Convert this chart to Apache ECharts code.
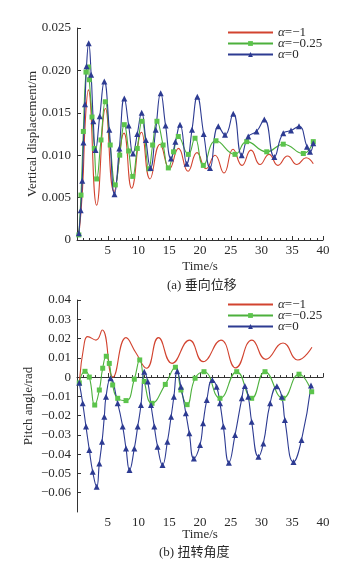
<!DOCTYPE html>
<html>
<head>
<meta charset="utf-8">
<script src="https://cdn.jsdelivr.net/npm/echarts@6/dist/echarts.min.js"></script>
<style>
html, body { margin: 0; padding: 0; background: #fff; }
#chart { width: 339px; height: 562px; }
</style>
</head>
<body>
<div id="chart"></div>
<script>
// names of the three damping cases
var seriesNames = ["α=−1", "α=−0.25", "α=0"];
var xTicks = [0, 40, 5];

// (a) vertical displacement, m
var tRedA = [0.3, 0.9, 1.35, 1.84, 3.2, 4.63, 6.02, 7.64, 8.89, 10.49, 11.87, 13.5, 15.04, 16.5, 18.05, 19.51, 20.98, 22.44, 23.9, 25.37, 26.83, 28.29, 29.76, 31.22, 32.68, 34.23, 35.77, 37.24, 38.42];
var yRedA = [0.0005, 0.006, 0.014, 0.0177, 0.0041, 0.0155, 0.0057, 0.0126, 0.0061, 0.0127, 0.0072, 0.0113, 0.0084, 0.0108, 0.0081, 0.0103, 0.0084, 0.0100, 0.0079, 0.0107, 0.0088, 0.0106, 0.0089, 0.0101, 0.0088, 0.0099, 0.0089, 0.0097, 0.0090];

var tGreenA = [0.3, 0.65, 1.03, 1.46, 1.84, 2.0, 2.44, 2.82, 3.2, 3.9, 4.6, 5.4, 6.23, 6.95, 7.69, 8.4, 9.06, 9.8, 10.57, 11.7, 12.3, 13.0, 14.0, 14.85, 15.7, 16.47, 18.1, 19.19, 20.54, 22.6, 25.69, 27.59, 30.85, 33.54, 36.8, 38.42];
var yGreenA = [0.0006, 0.0053, 0.0128, 0.0198, 0.0204, 0.0189, 0.0145, 0.0108, 0.0072, 0.0118, 0.0163, 0.0112, 0.0065, 0.0100, 0.0136, 0.0105, 0.0075, 0.0108, 0.0140, 0.0084, 0.0112, 0.0140, 0.0112, 0.0085, 0.0104, 0.0122, 0.0101, 0.0120, 0.0088, 0.0117, 0.0101, 0.0116, 0.0104, 0.0113, 0.0102, 0.0116];

var tBlueA = [0.3, 0.6, 0.85, 1.05, 1.3, 1.55, 1.9, 2.3, 2.65, 3.01, 3.7, 4.44, 5.25, 6.1, 6.88, 7.69, 8.4, 9.11, 9.8, 10.52, 11.2, 11.95, 12.8, 13.61, 14.4, 15.28, 16.0, 16.75, 17.84, 18.7, 19.56, 20.6, 21.63, 22.98, 24.07, 25.41, 26.78, 27.85, 29.2, 30.46, 32.08, 33.54, 34.8, 36.1, 37.4, 37.89, 38.42];
var yBlueA = [0.0008, 0.0035, 0.0070, 0.0115, 0.0160, 0.0205, 0.0232, 0.0195, 0.0140, 0.0106, 0.0146, 0.0187, 0.0130, 0.0054, 0.0108, 0.0167, 0.0135, 0.0102, 0.0125, 0.0150, 0.0118, 0.0085, 0.0130, 0.0173, 0.0135, 0.0096, 0.0116, 0.0136, 0.0090, 0.0130, 0.0169, 0.0125, 0.0085, 0.0134, 0.0124, 0.0149, 0.0100, 0.0122, 0.0128, 0.0142, 0.0098, 0.0126, 0.0129, 0.0134, 0.0110, 0.0104, 0.0114];

// (b) pitch angle, rad
var tRedB = [0.37, 1.19, 1.74, 3.09, 4.1, 5.85, 7.97, 9.6, 11.3, 13.25, 15.45, 18.3, 20.5, 23.4, 25.8, 28.45, 30.7, 33.5, 35.9, 38.2];
var yRedB = [-0.003, 0.0177, 0.021, 0.0192, 0.0244, 0.0, 0.0205, 0.0125, 0.0046, 0.0205, 0.0071, 0.0192, 0.008, 0.0192, 0.0048, 0.0192, 0.0092, 0.0177, 0.0089, 0.0155];

var tGreenB = [0.37, 1.3, 2.0, 2.88, 3.63, 4.18, 4.76, 5.25, 5.8, 6.62, 7.97, 9.32, 10.2, 10.94, 12.2, 14.36, 16.0, 16.9, 17.9, 19.2, 20.65, 23.25, 25.97, 28.4, 30.57, 33.5, 36.1, 38.16];
var yGreenB = [-0.003, 0.003, 0.0, -0.0145, -0.0067, 0.0046, 0.0108, 0.0071, -0.0041, -0.011, -0.0122, -0.0011, 0.0089, -0.0023, -0.0136, -0.0038, 0.0051, -0.0067, -0.0143, -0.0006, 0.0028, -0.011, 0.0028, -0.011, 0.0028, -0.011, 0.0015, -0.0076];

var tBlueB = [0.37, 0.93, 1.46, 2.0, 2.55, 3.2, 3.63, 4.07, 4.44, 4.72, 5.45, 6.62, 7.43, 7.97, 8.54, 9.32, 9.87, 10.4, 10.94, 11.5, 12.03, 12.57, 13.1, 13.9, 14.7, 15.3, 15.75, 16.3, 16.9, 17.7, 18.26, 19.0, 20.0, 20.5, 21.1, 22.0, 22.7, 23.25, 23.8, 24.7, 25.7, 26.8, 27.3, 27.85, 28.4, 29.5, 30.3, 31.4, 32.5, 33.3, 33.8, 35.2, 36.5, 38.05];
var yBlueB = [-0.003, -0.0136, -0.0257, -0.0378, -0.0491, -0.0569, -0.0448, -0.0335, -0.0206, -0.0102, -0.0006, -0.0136, -0.0257, -0.037, -0.0482, -0.037, -0.0257, -0.0145, 0.0028, -0.0023, -0.0145, -0.0257, -0.0361, -0.0456, -0.0335, -0.0206, -0.0102, 0.003, -0.005, -0.0188, -0.0292, -0.0422, -0.0352, -0.024, -0.0119, -0.0015, -0.005, -0.0136, -0.0257, -0.0444, -0.030, -0.011, -0.0046, -0.0102, -0.0232, -0.0413, -0.0344, -0.0136, -0.0048, -0.0102, -0.0223, -0.044, -0.0327, -0.0044];

var chart = echarts.init(document.getElementById("chart"));
var serif = "Liberation Serif";
var textColor = "#2a2a2a";
var colRed = "#d2432f", colGreen = "#4cb03c", colGreenMark = "#5cc44c", colBlue = "#2d3b92";

function zip(t, y) {
  return t.map(function (v, i) { return [v, y[i]]; });
}

function xAxisFor(gridIndex, nameGap) {
  return {
    type: "value",
    gridIndex: gridIndex,
    min: xTicks[0],
    max: xTicks[1],
    interval: xTicks[2],
    name: "Time/s",
    nameLocation: "middle",
    nameGap: nameGap,
    nameMoveOverlap: false,
    nameTextStyle: { fontFamily: serif, fontSize: 13, color: textColor },
    axisLine: { lineStyle: { color: "#333", width: 1 } },
    axisTick: { inside: true, length: 4, lineStyle: { color: "#333" } },
    minorTick: { show: true, splitNumber: 5, length: 2, lineStyle: { color: "#333" } },
    axisLabel: { showMinLabel: false, margin: 4, fontFamily: serif, fontSize: 13, color: textColor },
    splitLine: { show: false }
  };
}

function lineSeries(name, t, y, idx, color, symbol, markColor, size) {
  return {
    name: name,
    type: "line",
    xAxisIndex: idx,
    yAxisIndex: idx,
    data: zip(t, y),
    smooth: 0.5,
    symbol: symbol,
    symbolSize: size,
    showAllSymbol: true,
    lineStyle: { color: color, width: 1.1 },
    itemStyle: { color: markColor, borderWidth: 0 },
    emphasis: { disabled: true }
  };
}

function legendFor(top) {
  return {
    data: [
      // red curve has no marks, so its legend symbol is hidden
      { name: seriesNames[0], itemStyle: { color: "rgba(0,0,0,0)", borderWidth: 0 } },
      { name: seriesNames[1] },
      { name: seriesNames[2] }
    ],
    orient: "vertical",
    left: 227,
    top: top,
    padding: 0,
    itemWidth: 45,
    itemHeight: 6,
    itemGap: -2,
    formatter: function (n) { return "{i|α}" + n.slice(1); },
    textStyle: {
      fontFamily: serif, fontSize: 13, lineHeight: 11, color: textColor,
      rich: { i: { fontFamily: serif, fontSize: 13, lineHeight: 11, fontStyle: "italic", color: textColor } }
    }
  };
}

function yName(text, gap) {
  return {
    name: text, nameLocation: "middle", nameGap: gap, nameMoveOverlap: false,
    nameTextStyle: { fontFamily: serif, fontSize: 13, color: textColor }
  };
}

var yAxisA = Object.assign({
  type: "value", gridIndex: 0, min: 0, max: 0.025, interval: 0.005,
  axisLine: { show: true, lineStyle: { color: "#333", width: 1 } },
  axisTick: { show: true, inside: true, length: 4, lineStyle: { color: "#333" } },
  axisLabel: {
    margin: 6, fontFamily: serif, fontSize: 13, color: textColor,
    formatter: function (v) { return Math.abs(v) < 1e-9 ? "0" : v.toFixed(3); }
  },
  splitLine: { show: false }
}, yName("Vertical displacement/m", 38));

var yAxisB = Object.assign({
  type: "value", gridIndex: 1, min: -0.07, max: 0.04, interval: 0.01,
  axisLine: { show: true, lineStyle: { color: "#333", width: 1 } },
  axisTick: { show: true, inside: true, length: 4, lineStyle: { color: "#333" } },
  axisLabel: {
    showMinLabel: false, margin: 6, fontFamily: serif, fontSize: 13, color: textColor,
    formatter: function (v) {
      if (Math.abs(v) < 1e-9) return "0";
      return v.toFixed(2).replace("-", "−");
    }
  },
  splitLine: { show: false }
}, yName("Pitch angle/rad", 42));

var option = {
  backgroundColor: "#fff",
  animation: false,
  title: [
    { text: "(a) 垂向位移", left: 162, top: 274,
      textStyle: { fontFamily: serif + ", Noto Sans CJK SC", fontSize: 13, fontWeight: "normal", color: textColor } },
    { text: "(b) 扭转角度", left: 154, top: 541,
      textStyle: { fontFamily: serif + ", Noto Sans CJK SC", fontSize: 13, fontWeight: "normal", color: textColor } }
  ],
  legend: [legendFor(26), legendFor(298)],
  grid: [
    { left: 77, top: 28, width: 246, height: 212 },
    { left: 77, top: 300, width: 246, height: 212 }
  ],
  xAxis: [xAxisFor(0, 20), xAxisFor(1, 16)],
  yAxis: [yAxisA, yAxisB],
  series: [
    lineSeries(seriesNames[0], tRedA, yRedA, 0, colRed, "none", colRed, 0),
    lineSeries(seriesNames[1], tGreenA, yGreenA, 0, colGreen, "rect", colGreenMark, 5),
    lineSeries(seriesNames[2], tBlueA, yBlueA, 0, colBlue, "triangle", colBlue, 6),
    lineSeries(seriesNames[0], tRedB, yRedB, 1, colRed, "none", colRed, 0),
    lineSeries(seriesNames[1], tGreenB, yGreenB, 1, colGreen, "rect", colGreenMark, 5),
    lineSeries(seriesNames[2], tBlueB, yBlueB, 1, colBlue, "triangle", colBlue, 6)
  ]
};

chart.setOption(option);
</script>
</body>
</html>
